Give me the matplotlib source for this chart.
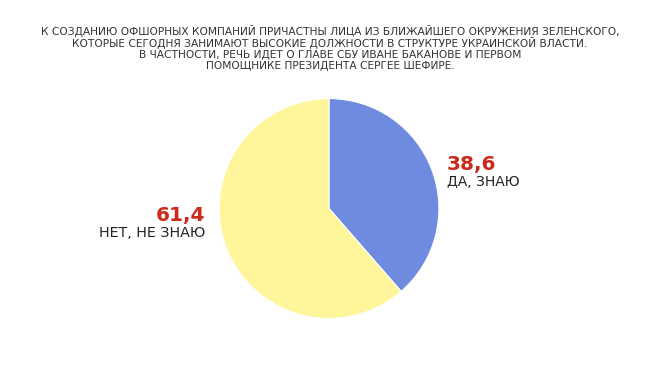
import matplotlib.pyplot as plt

# данные опроса
labels = ['ДА, ЗНАЮ', 'НЕТ, НЕ ЗНАЮ']
values = [38.6, 61.4]
colors = ['#6f8be0', '#fff59b']

title_lines = [
    'К СОЗДАНИЮ ОФШОРНЫХ КОМПАНИЙ ПРИЧАСТНЫ ЛИЦА ИЗ БЛИЖАЙШЕГО ОКРУЖЕНИЯ ЗЕЛЕНСКОГО,',
    'КОТОРЫЕ СЕГОДНЯ ЗАНИМАЮТ ВЫСОКИЕ ДОЛЖНОСТИ В СТРУКТУРЕ УКРАИНСКОЙ ВЛАСТИ.',
    'В ЧАСТНОСТИ, РЕЧЬ ИДЕТ О ГЛАВЕ СБУ ИВАНЕ БАКАНОВЕ И ПЕРВОМ',
    'ПОМОЩНИКЕ ПРЕЗИДЕНТА СЕРГЕЕ ШЕФИРЕ.',
]

W, H = 660, 366
fig = plt.figure(figsize=(W / 100, H / 100), dpi=100)

# круг: центр (329, 208) пикс., радиус 111
cx, cy, r = 329, 208.5, 111
ax = fig.add_axes([(cx - r) / W, (H - cy - r) / H, 2 * r / W, 2 * r / H])
ax.pie(values, colors=colors, startangle=90, counterclock=False,
       wedgeprops={'edgecolor': 'white', 'linewidth': 0.8})
ax.set_xlim(-1.01, 1.01)
ax.set_ylim(-1.01, 1.01)

# заголовок, строки по отдельности (базовые линии в пикселях сверху)
for line, base in zip(title_lines, [35, 46.5, 57.7, 69]):
    fig.text(330 / W, 1 - base / H, line, ha='center', va='baseline', fontsize=7.7,
             color='#333333')

# подписи
red = '#cc2a1c'
fig.text(447 / W, 1 - 164 / H, f'{values[0]:.1f}'.replace('.', ','), ha='left', va='center',
         fontsize=14.5, fontweight='bold', color=red)
fig.text(447 / W, 1 - 182 / H, labels[0], ha='left', va='center', fontsize=10, color='#222222')
fig.text(205 / W, 1 - 215 / H, f'{values[1]:.1f}'.replace('.', ','), ha='right', va='center',
         fontsize=14.5, fontweight='bold', color=red)
fig.text(205 / W, 1 - 233 / H, labels[1], ha='right', va='center', fontsize=10.3, color='#222222')

plt.savefig('out.png', dpi=100)
